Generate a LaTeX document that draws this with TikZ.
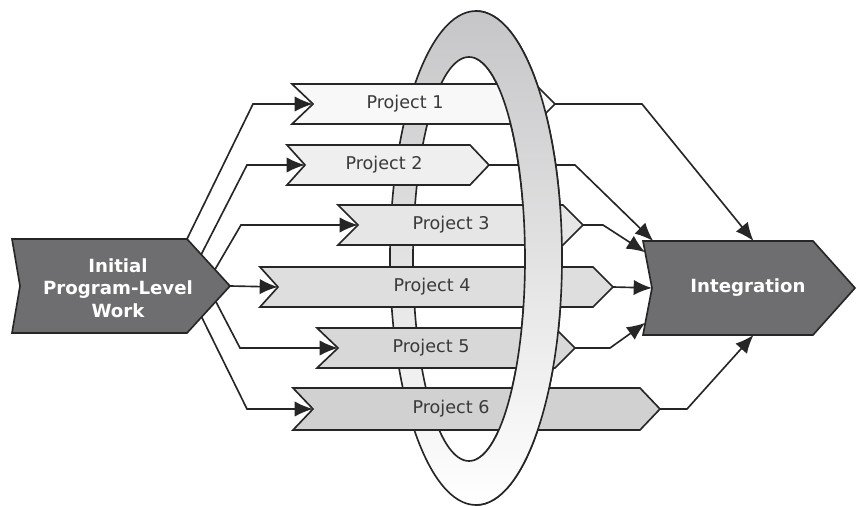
\documentclass[tikz,border=0pt]{standalone}
\usepackage{fontspec}
\setsansfont{DejaVu Sans}
\usetikzlibrary{arrows.meta,calc}

\definecolor{darkbox}{HTML}{6E6E70}
\definecolor{ringgray}{HTML}{C6C6C8}
\definecolor{txtgray}{HTML}{3A3A3A}
\definecolor{p1col}{HTML}{F8F8F8}
\definecolor{p2col}{HTML}{EFEFEF}
\definecolor{p3col}{HTML}{E6E6E6}
\definecolor{p4col}{HTML}{DEDEDE}
\definecolor{p5col}{HTML}{D8D8D8}
\definecolor{p6col}{HTML}{D1D1D1}

\tikzset{
  outline/.style={draw=black!85, line width=1.4pt},
  conn/.style={draw=black!85, line width=1.4pt, -{Latex[length=5.5mm,width=4.6mm]}},
  ptext/.style={font=\sffamily\fontsize{15}{18}\selectfont, text=txtgray},
  btext/.style={font=\sffamily\bfseries\fontsize{15.5}{19}\selectfont, text=white, align=center},
  ringband/.style={draw=black!85, line width=1.4pt, top color=ringgray, bottom color=white, even odd rule}
}

% name, fill, left x, tip x, mid y, half height, notch, point
\newcommand{\chevron}[8]{%
  \draw[outline, fill=#2] (#3,#5-#6) coordinate (#1nw) -- (#4-#8,#5-#6) coordinate (#1ne)
    -- (#4,#5) coordinate (#1e) -- (#4-#8,#5+#6) coordinate (#1se)
    -- (#3,#5+#6) coordinate (#1sw) -- (#3+#7,#5) coordinate (#1w) -- cycle;}

\begin{document}
\begin{tikzpicture}[x=0.03cm,y=-0.03cm]
  \useasboundingbox (0,0) rectangle (857,506);
  % ring, back half
  \shade[ringband] (476,258) ellipse [x radius=86, y radius=247]
    (469,259) ellipse [x radius=56, y radius=202];

  % start and end
  \chevron{ini}{darkbox}{12}{230}{286}{47}{8}{43}
  \chevron{int}{darkbox}{643}{855}{288}{47}{9}{42}
  \node[btext] (initial) at (118,288) {Initial\\Program-Level\\Work};
  \node[btext] (integration) at (748,288) {Integration};

  % projects
  \chevron{p1}{p1col}{292}{555}{104}{20}{21}{20}
  \chevron{p2}{p2col}{287}{489}{165}{20}{18}{19}
  \chevron{p3}{p3col}{338}{583}{225}{20}{20}{20}
  \chevron{p4}{p4col}{260}{613}{287}{20}{18}{20}
  \chevron{p5}{p5col}{317}{575}{348}{20}{21}{20}
  \chevron{p6}{p6col}{293}{660}{409}{21}{20}{20}
  \node[ptext] (t1) at (405,104) {Project 1};
  \node[ptext] (t2) at (384,165) {Project 2};
  \node[ptext] (t3) at (451,225) {Project 3};
  \node[ptext] (t4) at (432,287) {Project 4};
  \node[ptext] (t5) at (431,348) {Project 5};
  \node[ptext] (t6) at (451,409) {Project 6};

  % fan out
  \draw[conn] (inine) -- (253,104) -- (p1w);
  \draw[conn] ($(inine)!0.33!(inie)$) -- (247,165) -- (p2w);
  \draw[conn] ($(inine)!0.65!(inie)$) -- (241,225) -- (p3w);
  \draw[conn] (inie) -- (p4w);
  \draw[conn] ($(inie)!0.33!(inise)$) -- (240,348) -- (p5w);
  \draw[conn] ($(inie)!0.66!(inise)$) -- (247,409) -- (p6w);

  % fan in
  \draw[conn] (p1e) -- (642,104) -- ($(intnw)!0.65!(intne)$);
  \draw[conn] (p2e) -- (575,165) -- ($(intnw)!0.06!(intne)$);
  \draw[conn] (p3e) -- (603,225) -- ($(intnw)!0.24!(intw)$);
  \draw[conn] (p4e) -- (intw);
  \draw[conn] (p5e) -- (610,348) -- ($(intw)!0.74!(intsw)$);
  \draw[conn] (p6e) -- (687,409) -- ($(intsw)!0.65!(intse)$);

  % ring, front half
  \begin{scope}
    \clip (476,0) rectangle (857,506);
    \shade[ringband] (476,258) ellipse [x radius=86, y radius=247]
      (469,259) ellipse [x radius=56, y radius=202];
  \end{scope}
\end{tikzpicture}
\end{document}
